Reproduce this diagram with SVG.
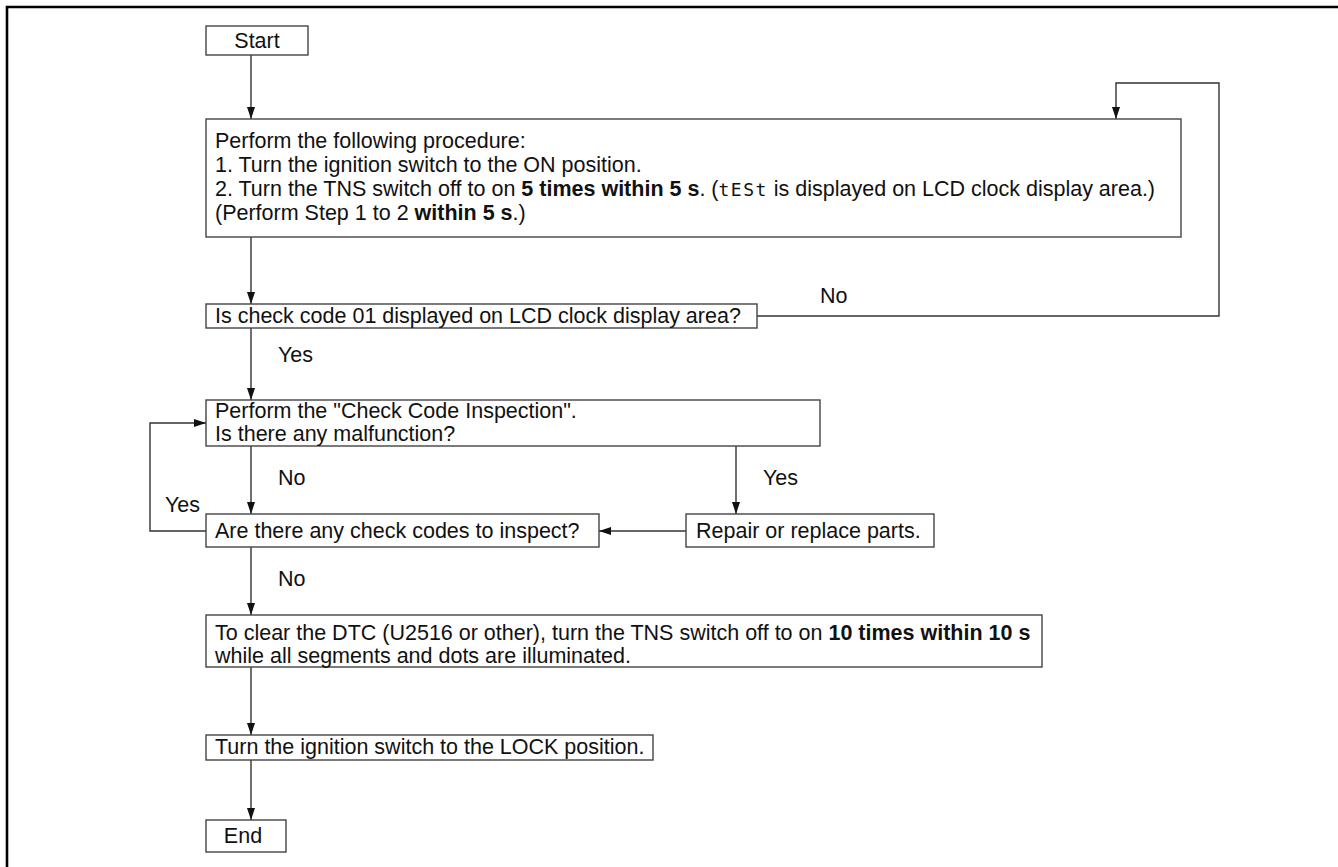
<svg xmlns="http://www.w3.org/2000/svg" width="1338" height="867" viewBox="0 0 1338 867">
<defs>
<marker id="ah" viewBox="0 0 12 8" refX="12" refY="4" markerWidth="12" markerHeight="8" markerUnits="userSpaceOnUse" orient="auto">
<path d="M0,0 L12,4 L0,8 Z" fill="#111"/>
</marker>
<style>
.box{fill:#fff;stroke:#444;stroke-width:1.4}
.t{font-family:"Liberation Sans",Arial,sans-serif;font-size:21.5px;fill:#111}
.b{font-weight:bold}
.lcd{font-family:"DejaVu Sans Mono",monospace;font-size:18px;letter-spacing:1.5px}
.c{fill:none;stroke:#333;stroke-width:1.4}
</style>
</defs>
<rect width="1338" height="867" fill="#fff"/>
<path d="M7,867 V7 H1338" fill="none" stroke="#000" stroke-width="2.6"/>
<g id="connectors">
<path class="c" d="M251,55 V119" marker-end="url(#ah)"/>
<path class="c" d="M251,237 V304" marker-end="url(#ah)"/>
<path class="c" d="M757,316 H1219 V83 H1116 V119" marker-end="url(#ah)"/>
<path class="c" d="M251,328 V400" marker-end="url(#ah)"/>
<path class="c" d="M251,446 V514" marker-end="url(#ah)"/>
<path class="c" d="M736,446 V514" marker-end="url(#ah)"/>
<path class="c" d="M686,531 H599" marker-end="url(#ah)"/>
<path class="c" d="M206,531 H150 V423 H206" marker-end="url(#ah)"/>
<path class="c" d="M251,547 V615" marker-end="url(#ah)"/>
<path class="c" d="M251,667 V735" marker-end="url(#ah)"/>
<path class="c" d="M251,759 V820" marker-end="url(#ah)"/>
<text class="t" x="820" y="303">No</text>
<text class="t" x="278" y="362">Yes</text>
<text class="t" x="278" y="485">No</text>
<text class="t" x="763" y="485">Yes</text>
<text class="t" x="165" y="512">Yes</text>
<text class="t" x="278" y="586">No</text>
</g>
<g id="start">
<rect class="box" x="206" y="26" width="102" height="29"/>
<text class="t" x="257" y="48" text-anchor="middle">Start</text>
</g>
<g id="procedure">
<rect class="box" x="206" y="119" width="975" height="118"/>
<text class="t" x="215" y="148">Perform the following procedure:</text>
<text class="t" x="215" y="172">1. Turn the ignition switch to the ON position.</text>
<text class="t" x="215" y="196">2. Turn the TNS switch off to on <tspan class="b">5 times within 5 s</tspan>. (<tspan class="lcd">tESt</tspan> is displayed on LCD clock display area.)</text>
<text class="t" x="215" y="220">(Perform Step 1 to 2 <tspan class="b">within 5 s</tspan>.)</text>
</g>
<g id="check01">
<rect class="box" x="206" y="304" width="551" height="24"/>
<text class="t" x="215" y="323">Is check code 01 displayed on LCD clock display area?</text>
</g>
<g id="inspection">
<rect class="box" x="206" y="400" width="614" height="46"/>
<text class="t" x="215" y="418">Perform the "Check Code Inspection".</text>
<text class="t" x="215" y="441">Is there any malfunction?</text>
</g>
<g id="anycodes">
<rect class="box" x="206" y="514" width="393" height="33"/>
<text class="t" x="215" y="538">Are there any check codes to inspect?</text>
</g>
<g id="repair">
<rect class="box" x="686" y="514" width="248" height="33"/>
<text class="t" x="696" y="538">Repair or replace parts.</text>
</g>
<g id="clear">
<rect class="box" x="206" y="615" width="836" height="52"/>
<text class="t" x="215" y="640">To clear the DTC (U2516 or other), turn the TNS switch off to on <tspan class="b">10 times within 10 s</tspan></text>
<text class="t" x="215" y="663">while all segments and dots are illuminated.</text>
</g>
<g id="lock">
<rect class="box" x="206" y="735" width="447" height="25"/>
<text class="t" x="215" y="754">Turn the ignition switch to the LOCK position.</text>
</g>
<g id="end">
<rect class="box" x="206" y="820" width="80" height="32"/>
<text class="t" x="243" y="843" text-anchor="middle">End</text>
</g>
</svg>
